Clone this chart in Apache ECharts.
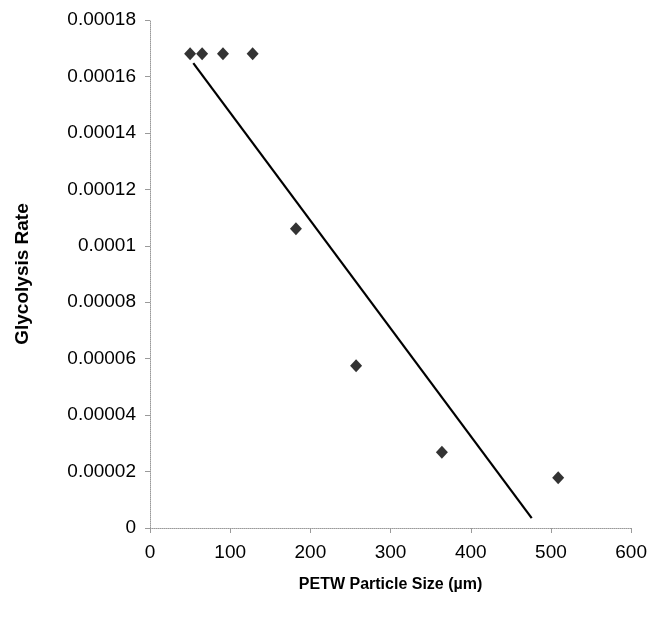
<!DOCTYPE html>
<html>
<head>
<meta charset="utf-8">
<script src="https://cdn.jsdelivr.net/npm/echarts@6/dist/echarts.min.js"></script>
<style>
  html, body { margin: 0; padding: 0; background: #fff; }
  #chart { width: 650px; height: 620px; }
</style>
</head>
<body>
<div id="chart"></div>
<script>
// Particle size (µm) of each PETW sample and its measured glycolysis rate
var particleSize = [50, 65, 91, 128, 182, 257, 364, 509];
var glycolysisRate = [0.000168, 0.000168, 0.000168, 0.000168, 0.000106, 0.0000575, 0.0000268, 0.0000178];

// Linear trend line end points
var trendX = [54, 476];
var trendY = [0.0001647, 0.0000035];

var chart = echarts.init(document.getElementById('chart'));

var font = 'Liberation Sans, Arial, Helvetica, sans-serif';
var axisGray = '#9a9a9a';

chart.setOption({
  animation: false,
  backgroundColor: '#ffffff',
  grid: { left: 150, right: 18, top: 20, bottom: 92 },
  xAxis: {
    type: 'value',
    min: 0, max: 600, interval: 100,
    name: 'PETW Particle Size (µm)',
    nameLocation: 'middle',
    nameGap: 49,
    nameTextStyle: { fontFamily: font, fontSize: 16, fontWeight: 'bold', color: '#000' },
    axisLine: { show: true, onZero: false, lineStyle: { color: axisGray, width: 1, type: 'dotted' } },
    axisTick: { show: true, length: 5, lineStyle: { color: axisGray } },
    axisLabel: { fontFamily: font, fontSize: 19, color: '#000', margin: 15 },
    splitLine: { show: false }
  },
  yAxis: {
    type: 'value',
    min: 0, max: 0.00018, interval: 0.00002,
    name: 'Glycolysis Rate',
    nameLocation: 'middle',
    nameGap: 118,
    nameTextStyle: { fontFamily: font, fontSize: 19, fontWeight: 'bold', color: '#000' },
    axisLine: { show: true, lineStyle: { color: axisGray, width: 1, type: 'dotted' } },
    axisTick: { show: true, length: 5, lineStyle: { color: axisGray } },
    axisLabel: {
      fontFamily: font, fontSize: 19, color: '#000', margin: 14,
      formatter: function (v) { return Number(v.toFixed(6)).toString(); }
    },
    splitLine: { show: false }
  },
  series: [
    {
      type: 'line',
      data: trendX.map(function (x, i) { return [x, trendY[i]]; }),
      showSymbol: false,
      symbol: 'none',
      lineStyle: { color: '#000', width: 2.2 },
      silent: true
    },
    {
      type: 'scatter',
      data: particleSize.map(function (x, i) { return [x, glycolysisRate[i]]; }),
      symbol: 'diamond',
      symbolSize: [12, 13],
      itemStyle: { color: '#000' }
    }
  ]
});
</script>
</body>
</html>
